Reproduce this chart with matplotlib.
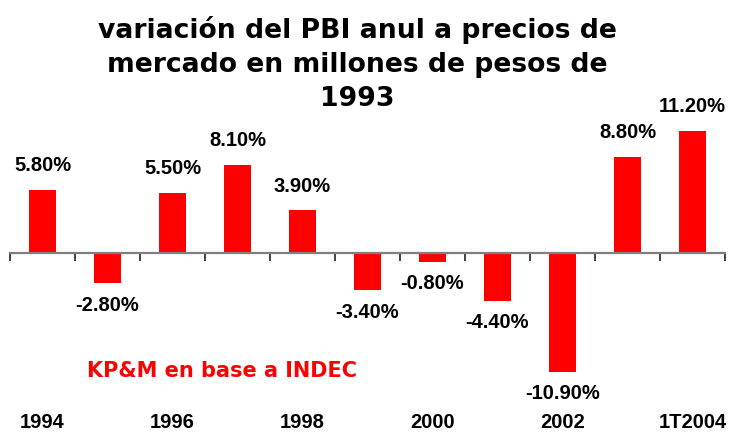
import numpy as np
import matplotlib
matplotlib.use('Agg')
import matplotlib.pyplot as plt
import matplotlib.transforms as mtransforms

# Data
years = ['1994', '1995', '1996', '1997', '1998', '1999', '2000', '2001', '2002', '2003', '1T2004']
growth = [5.8, -2.8, 5.5, 8.1, 3.9, -3.4, -0.8, -4.4, -10.9, 8.8, 11.2]
shown_labels = ['1994', '1996', '1998', '2000', '2002', '1T2004']

title = 'variación del PBI anul a precios de\nmercado en millones de pesos de\n1993'
source = 'KP&M en base a INDEC'

fig = plt.figure(figsize=(7.3, 4.32), dpi=100)
# axes from x=10px to 725px, y=120px to 400px (from top)
ax = fig.add_axes([10 / 730, (432 - 400) / 432, 715 / 730, 280 / 432])

x = np.arange(len(years))
ax.bar(x, growth, width=0.42, color='#ff0000', zorder=2)
ax.set_xlim(-0.5, len(years) - 0.5)
ax.set_ylim(-13.49, 12.2)

# axis line at zero with ticks at category boundaries
for s in ['top', 'right', 'left']:
    ax.spines[s].set_visible(False)
ax.spines['bottom'].set_position(('data', 0))
ax.spines['bottom'].set_color('#7f7f7f')
ax.spines['bottom'].set_linewidth(1.6)
ax.spines['bottom'].set_zorder(3)
ax.set_xticks(np.arange(len(years) + 1) - 0.5)
ax.set_xticklabels([])
ax.tick_params(axis='x', direction='out', length=6, width=1.4, color='#404040')
ax.set_yticks([])

# value labels
for xi, v in zip(x, growth):
    if v >= 0:
        ax.annotate(f'{v:.2f}%', (xi, v), xytext=(0, 10.5), textcoords='offset points',
                    ha='center', va='bottom', fontsize=14.5, fontweight='bold',
                    family='Liberation Sans')
    else:
        ax.annotate(f'{v:.2f}%', (xi, v), xytext=(0, -9), textcoords='offset points',
                    ha='center', va='top', fontsize=14.5, fontweight='bold',
                    family='Liberation Sans')

# year labels at the bottom
trans = mtransforms.blended_transform_factory(ax.transData, fig.transFigure)
for lab in shown_labels:
    i = years.index(lab)
    ax.text(i, 1 - 423 / 432, lab, transform=trans, ha='center', va='center',
            fontsize=14.5, fontweight='bold', family='Liberation Sans')

fig.text(357 / 730, 1 - 64 / 432, title, ha='center', va='center', fontsize=19.2,
         fontweight='bold', family='DejaVu Sans', linespacing=1.38)
fig.text(222 / 730, 1 - 371 / 432, source, ha='center', va='center', fontsize=15,
         fontweight='bold', color='#ff0000', family='DejaVu Sans')

plt.savefig('out.png', dpi=100)
